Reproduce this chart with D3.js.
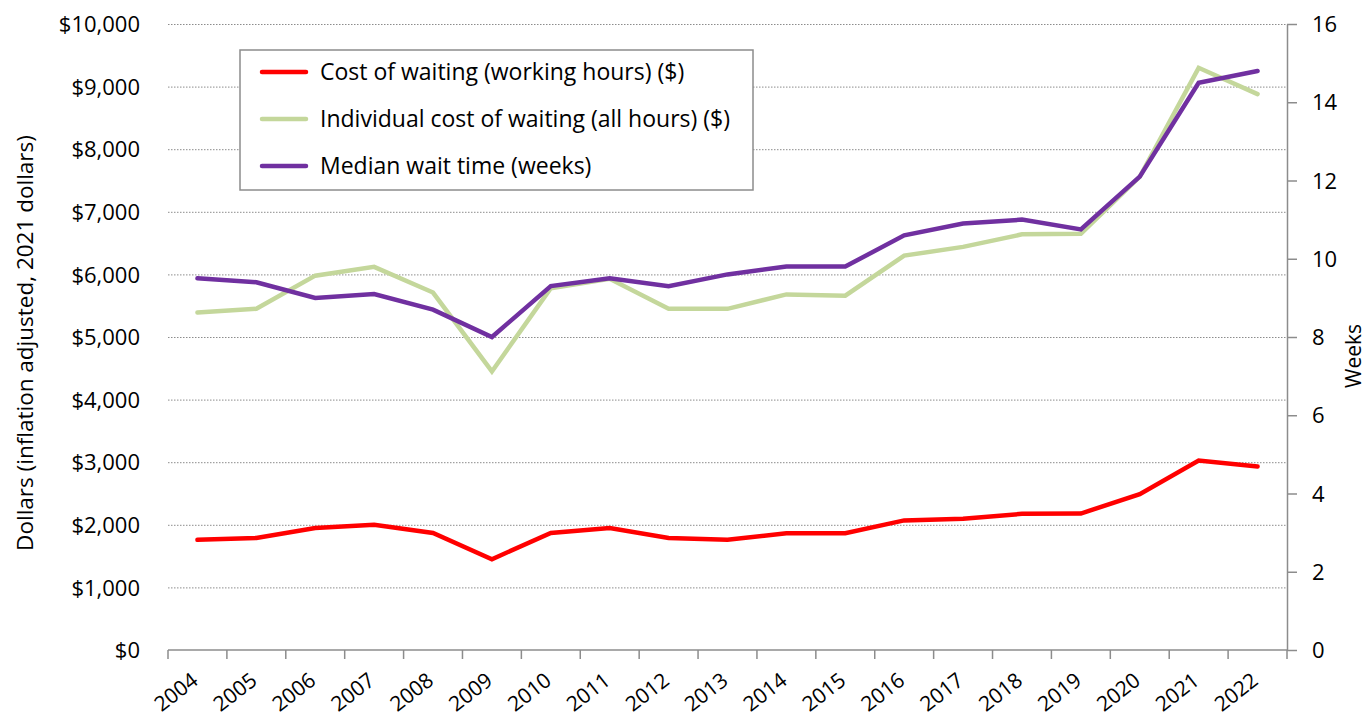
<!DOCTYPE html>
<html>
<head>
<meta charset="utf-8">
<title>Cost of waiting</title>
<script src="https://cdn.jsdelivr.net/npm/d3@7"></script>
<style>
  html, body { margin: 0; padding: 0; background: #fff; }
  svg text { font-family: "Open Sans", "Noto Sans", sans-serif; fill: #000; }
</style>
</head>
<body>
<div id="chart"></div>
<script>
var years = ['2004', '2005', '2006', '2007', '2008', '2009', '2010', '2011', '2012', '2013',
             '2014', '2015', '2016', '2017', '2018', '2019', '2020', '2021', '2022'];

// cost of waiting, working hours only ($, 2021 dollars)
var costWorking = [1760, 1790, 1950, 2000, 1870, 1450, 1870, 1950, 1790, 1760,
                   1865, 1865, 2070, 2095, 2175, 2180, 2490, 3025, 2930];

// individual cost of waiting, all hours ($)
var costAllHours = [5390, 5450, 5980, 6120, 5710, 4450, 5780, 5930, 5450, 5450,
                    5680, 5660, 6300, 6440, 6640, 6650, 7560, 9300, 8880];

// median wait time (weeks)
var waitWeeks = [9.5, 9.4, 9.0, 9.1, 8.7, 8.0, 9.3, 9.5, 9.3, 9.6,
                 9.8, 9.8, 10.6, 10.9, 11.0, 10.75, 12.1, 14.5, 14.8];

var dollarTicks = [0, 1000, 2000, 3000, 4000, 5000, 6000, 7000, 8000, 9000, 10000];
var weekTicks = [0, 2, 4, 6, 8, 10, 12, 14, 16];

var seriesNames = [
  'Cost of waiting (working hours) ($)',
  'Individual cost of waiting (all hours) ($)',
  'Median wait time (weeks)'
];

(function() {
  'use strict';

  var
    WIDTH = 1368,
    HEIGHT = 719,
    margin = {top: 24, right: 81, bottom: 69, left: 168},
    innerW = WIDTH - margin.left - margin.right,
    innerH = HEIGHT - margin.top - margin.bottom,

    COLORS = {
      red: '#ff0000',
      green: '#c4d79b',
      purple: '#7030a0',
      axis: '#8c8c8c',
      grid: '#8c8c8c'
    };

  var svg = d3.select('#chart')
              .append('svg')
              .attr('width', WIDTH)
              .attr('height', HEIGHT);

  var g = svg.append('g')
             .attr('transform', 'translate(' + margin.left + ',' + margin.top + ')');

  var x = d3.scaleBand()
            .domain(years)
            .range([0, innerW])
            .padding(0);

  var yDollars = d3.scaleLinear()
                   .domain([0, 10000])
                   .range([innerH, 0]);

  var yWeeks = d3.scaleLinear()
                 .domain([0, 16])
                 .range([innerH, 0]);

  // dotted grid lines off the dollar axis
  g.append('g')
    .selectAll('line')
    .data(dollarTicks.filter(function(d) { return d > 0; }))
    .enter()
    .append('line')
    .attr('x1', 0)
    .attr('x2', innerW)
    .attr('y1', function(d) { return yDollars(d) + 0.5; })
    .attr('y2', function(d) { return yDollars(d) + 0.5; })
    .attr('stroke', COLORS.grid)
    .attr('stroke-width', 1)
    .attr('stroke-dasharray', '1.5,1.5');

  // left axis: labels only
  var leftAxis = g.append('g')
                  .call(d3.axisLeft(yDollars)
                          .tickValues(dollarTicks)
                          .tickSize(0)
                          .tickPadding(28)
                          .tickFormat(function(d) { return '$' + d3.format(',')(d); }));
  leftAxis.select('.domain').remove();
  leftAxis.selectAll('text')
          .attr('font-size', 22)
          .attr('dy', '0.35em');

  // right axis: weeks
  var rightAxis = g.append('g')
                   .attr('transform', 'translate(' + innerW + ',0)')
                   .call(d3.axisRight(yWeeks)
                           .tickValues(weekTicks)
                           .tickSize(10)
                           .tickSizeOuter(0)
                           .tickPadding(15));
  rightAxis.select('.domain')
           .attr('stroke', COLORS.axis)
           .attr('stroke-width', 1.5);
  rightAxis.selectAll('.tick line')
           .attr('stroke', COLORS.axis)
           .attr('stroke-width', 1.5);
  rightAxis.selectAll('text')
           .attr('font-size', 22)
           .attr('dy', '0.35em');

  // bottom axis with ticks between categories
  var bottom = g.append('g')
                .attr('transform', 'translate(0,' + innerH + ')');

  bottom.append('line')
        .attr('x1', 0)
        .attr('x2', innerW)
        .attr('y1', 0)
        .attr('y2', 0)
        .attr('stroke', COLORS.axis)
        .attr('stroke-width', 1.5);

  bottom.selectAll('line.tick')
        .data(years.concat(['end']))
        .enter()
        .append('line')
        .attr('class', 'tick')
        .attr('x1', function(d, i) { return i * x.step(); })
        .attr('x2', function(d, i) { return i * x.step(); })
        .attr('y1', 0)
        .attr('y2', 9)
        .attr('stroke', COLORS.axis)
        .attr('stroke-width', 1.5);

  bottom.selectAll('text.year')
        .data(years)
        .enter()
        .append('text')
        .attr('class', 'year')
        .attr('font-size', 21)
        .attr('text-anchor', 'end')
        .attr('transform', function(d) {
          var cx = x(d) + x.bandwidth() / 2 + 2;
          return 'translate(' + cx + ',33) rotate(-38)';
        })
        .text(function(d) { return d; });

  // axis titles
  svg.append('text')
     .attr('font-size', 22.5)
     .attr('text-anchor', 'middle')
     .attr('transform', 'translate(33,' + (margin.top + innerH / 2 + 6) + ') rotate(-90)')
     .text('Dollars (inflation adjusted, 2021 dollars)');

  svg.append('text')
     .attr('font-size', 21)
     .attr('text-anchor', 'middle')
     .attr('transform', 'translate(1361,356) rotate(-90)')
     .text('Weeks');

  // lines
  var cx = function(d, i) { return x(years[i]) + x.bandwidth() / 2; };

  var lineDollars = d3.line()
                      .x(cx)
                      .y(function(d) { return yDollars(d); });

  var lineWeeks = d3.line()
                    .x(cx)
                    .y(function(d) { return yWeeks(d); });

  var series = [
    {values: costWorking, line: lineDollars, color: COLORS.red},
    {values: costAllHours, line: lineDollars, color: COLORS.green},
    {values: waitWeeks, line: lineWeeks, color: COLORS.purple}
  ];

  // draw order: red, green, then purple on top
  g.selectAll('path.series')
    .data(series)
    .enter()
    .append('path')
    .attr('class', 'series')
    .attr('fill', 'none')
    .attr('stroke', function(d) { return d.color; })
    .attr('stroke-width', 4.5)
    .attr('stroke-linejoin', 'miter')
    .attr('stroke-linecap', 'round')
    .attr('d', function(d) { return d.line(d.values); });

  // legend
  var legend = svg.append('g')
                  .attr('transform', 'translate(240,50)');

  legend.append('rect')
        .attr('width', 513)
        .attr('height', 140)
        .attr('fill', '#fff')
        .attr('stroke', '#8c8c8c')
        .attr('stroke-width', 1.5);

  var items = legend.selectAll('g.item')
                    .data(series)
                    .enter()
                    .append('g')
                    .attr('class', 'item')
                    .attr('transform', function(d, i) {
                      return 'translate(0,' + (22 + i * 47) + ')';
                    });

  items.append('line')
       .attr('x1', 22)
       .attr('x2', 66)
       .attr('stroke', function(d) { return d.color; })
       .attr('stroke-width', 4.5)
       .attr('stroke-linecap', 'round');

  items.append('text')
       .attr('x', 80)
       .attr('dy', '0.35em')
       .attr('font-size', 23)
       .text(function(d, i) { return seriesNames[i]; });
})();
</script>
</body>
</html>
